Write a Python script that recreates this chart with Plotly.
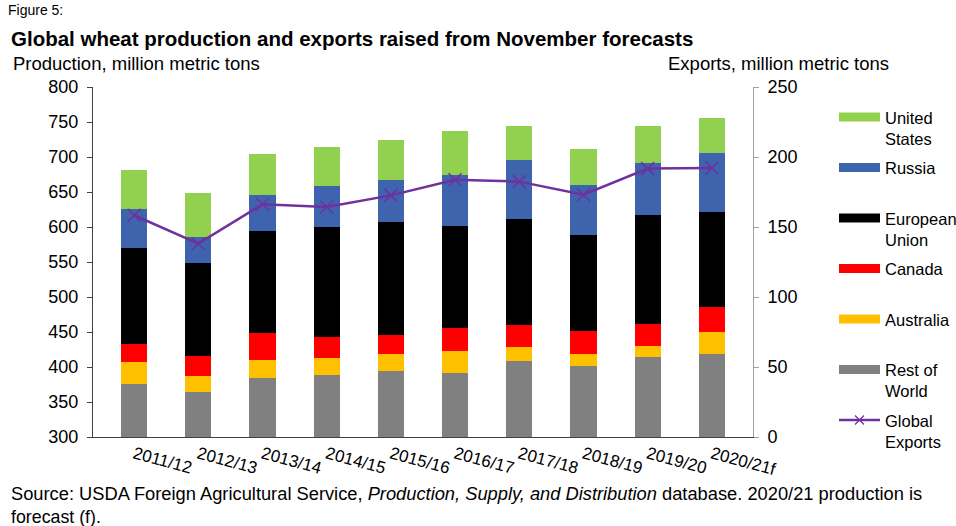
import plotly.graph_objects as go

# marketing years (x categories)
years = ["2011/12", "2012/13", "2013/14", "2014/15", "2015/16",
         "2016/17", "2017/18", "2018/19", "2019/20", "2020/21f"]

# production, million metric tons (stacked from the bottom)
rest_of_world = [376, 365, 385, 388, 395, 391, 408, 401, 415, 419]
australia = [31, 22.4, 25.7, 25.2, 23.7, 32.5, 21, 17.6, 14.7, 31.6]
canada = [25.4, 28, 38, 29.1, 27.7, 32.4, 31.4, 33.4, 32.4, 35.1]
european_union = [138.2, 133.3, 145.4, 157, 160.3, 145.7, 151.4, 136.2, 155.6, 136.3]
russia = [55.4, 37.7, 51.3, 59, 60.7, 73.3, 84.6, 71.4, 74, 83.7]
united_states = [56, 62.3, 58.7, 56, 56.7, 62.7, 48, 51.4, 52, 49.7]

# exports, million metric tons (right axis)
global_exports = [158.4, 138.1, 166.2, 164.3, 172.6, 183.8, 182.4, 173.1, 191.7, 192.1]

series = [
    ("Rest of World", rest_of_world, "#808080"),
    ("Australia", australia, "#FFC000"),
    ("Canada", canada, "#FF0000"),
    ("European Union", european_union, "#000000"),
    ("Russia", russia, "#3D64AD"),
    ("United States", united_states, "#92D050"),
]
legend_labels = ["United<br>States", "Russia", "European<br>Union", "Canada",
                 "Australia", "Rest of<br>World", "Global<br>Exports"]
purple = "#7030A0"
font = "Arial, Liberation Sans, sans-serif"

W, H = 956, 526
L, R, T, B = 93, 753, 87, 437


def px(x):
    return (x - L) / (R - L)


def py(y):
    return (B - y) / (B - T)


fig = go.Figure()
for name, vals, col in series:
    fig.add_trace(go.Bar(x=years, y=vals, name=name, marker_color=col,
                         marker_line_width=0))

fig.add_trace(go.Scatter(
    x=years, y=global_exports, name="Global Exports", yaxis="y2",
    mode="lines+markers",
    line=dict(color=purple, width=2.5),
    marker=dict(symbol="x-thin", size=13, line=dict(color=purple, width=1.5)),
))

shapes = []
annotations = []

# hand-made legend on the right
legend_colors = ["#92D050", "#3D64AD", "#000000", "#FF0000", "#FFC000", "#808080"]
for i, lab in enumerate(legend_labels):
    yc = 117 + i * 50.5
    if i < len(legend_colors):
        shapes.append(dict(type="rect", xref="paper", yref="paper",
                           x0=px(839), x1=px(880), y0=py(yc + 4.5), y1=py(yc - 4.5),
                           fillcolor=legend_colors[i], line_width=0))
    else:
        shapes.append(dict(type="line", xref="paper", yref="paper",
                           x0=px(839), x1=px(880), y0=py(yc), y1=py(yc),
                           line=dict(color=purple, width=2.5)))
        for d in (-1, 1):
            shapes.append(dict(type="line", xref="paper", yref="paper",
                               x0=px(855), x1=px(864), y0=py(yc - 4.5 * d), y1=py(yc + 4.5 * d),
                               line=dict(color=purple, width=1.3)))
    annotations.append(dict(x=px(883), y=py(yc - 10.5), xref="paper", yref="paper",
                            text=lab, showarrow=False, xanchor="left", yanchor="top",
                            align="left",
                            font=dict(size=16.5, color="#000", family=font)))

texts = [
    (7, 10, "Figure 5:", 14, "left", "middle"),
    (10, 38, "<b>Global wheat production and exports raised from November forecasts</b>", 20.5, "left", "middle"),
    (12, 63, "Production, million metric tons", 18.5, "left", "middle"),
    (890, 63, "Exports, million metric tons", 18.5, "right", "middle"),
    (10, 505, "Source: USDA Foreign Agricultural Service, <i>Production, Supply, and Distribution</i>"
              " database. 2020/21 production is", 18.3, "left", "bottom"),
    (10, 505.5, "forecast (f).", 17.8, "left", "top"),
]
for x, y, t, s, anc, vanc in texts:
    annotations.append(dict(x=px(x), y=py(y), xref="paper", yref="paper", text=t,
                            showarrow=False, xanchor=anc, yanchor=vanc,
                            borderpad=0,
                            font=dict(size=s, color="#000", family=font)))

fig.update_layout(
    width=W, height=H,
    barmode="stack", bargap=0.59,
    showlegend=False,
    paper_bgcolor="white", plot_bgcolor="white",
    font=dict(family=font, size=17, color="#000"),
    margin=dict(l=L, r=W - R, t=T, b=H - B, pad=0),
    xaxis=dict(type="category", tickangle=15, showgrid=False,
               showline=True, linecolor="#404040", linewidth=1,
               ticks="", tickfont=dict(size=17)),
    yaxis=dict(range=[300, 800], dtick=50, showgrid=False, showline=True,
               linecolor="#404040", linewidth=1, ticks="outside", ticklen=5,
               tickcolor="#404040", tickfont=dict(size=18, color="#000"),
               ticklabelstandoff=5, zeroline=False),
    yaxis2=dict(range=[0, 250], dtick=50, overlaying="y", side="right",
                showgrid=False, showline=True, linecolor="#a0a0a0", linewidth=1,
                ticks="outside", ticklen=5, tickcolor="#a0a0a0",
                tickfont=dict(size=18, color="#000"), ticklabelstandoff=5,
                zeroline=False),
    shapes=shapes,
    annotations=annotations,
)

fig.write_html("out.html", config={"displayModeBar": False},
               post_script="document.body.style.margin='0';")
